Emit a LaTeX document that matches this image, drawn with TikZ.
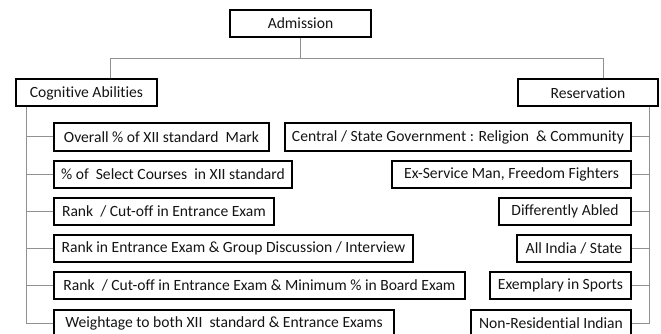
\documentclass[tikz,border=0pt]{standalone}
\usepackage{fontspec}
\setmainfont{Carlito}[Ligatures=NoCommon]
\usetikzlibrary{positioning}
\definecolor{linkgray}{RGB}{145,145,145}
\definecolor{textgray}{RGB}{20,20,20}
\tikzset{
    item/.style={rectangle,draw=black,line width=2pt,minimum height=27pt,inner sep=1pt,
                 text=textgray,font=\fontsize{15.6}{17}\selectfont},
    leftitem/.style={item,anchor=west},
    rightitem/.style={item,anchor=east},
    link/.style={draw=linkgray,line width=1pt},
}

\begin{document}
\begin{tikzpicture}[x=1pt,y=-1pt]
    \useasboundingbox (0,0) rectangle (661,334);
    % top levels
    \node[item,minimum width=141pt] (adm) at (300.5,23.5) {Admission};
    \node[item,minimum width=141pt] (cog) at (86.5,93) {Cognitive Abilities};
    \node[item,minimum width=140pt] (res) at (588,93) {Reservation};

    % cognitive abilities
    \node[leftitem,minimum width=215pt] (c1) at (53,137) {Overall \% of XII standard\ \ Mark};
    \node[leftitem,minimum width=238pt] (c2) at (53,174.2) {\% of\ \ Select Courses\ \ in XII standard};
    \node[leftitem,minimum width=220pt] (c3) at (53,211.4) {Rank\ \ / Cut-off in Entrance Exam};
    \node[leftitem,minimum width=359pt] (c4) at (53,248.6) {Rank in Entrance Exam \& Group Discussion / Interview};
    \node[leftitem,minimum width=411pt] (c5) at (53,285.8) {Rank\ \ / Cut-off in Entrance Exam \& Minimum \% in Board Exam};
    \node[leftitem,minimum width=340pt] (c6) at (53,323) {Weightage to both XII\ \ standard \& Entrance Exams};

    % reservation
    \node[rightitem,minimum width=346pt] (r1) at (632,137) {Central / State Government : Religion\ \ \& Community};
    \node[rightitem,minimum width=239pt] (r2) at (632,174.2) {Ex-Service Man, Freedom Fighters};
    \node[rightitem,minimum width=132pt] (r3) at (632,211.4) {Differently Abled};
    \node[rightitem,minimum width=114pt] (r4) at (632,248.6) {All India / State};
    \node[rightitem,minimum width=141pt] (r5) at (632,285.8) {Exemplary in Sports};
    \node[rightitem,minimum width=160pt] (r6) at (632,323) {Non-Residential Indian};

    % tree connectors
    \coordinate (jl) at (110,59);
    \coordinate (jr) at (603,59);
    \coordinate (sl) at (26,107);
    \coordinate (sr) at (649,107);
    \draw[link] (adm.south) -- (adm.south |- jl);
    \draw[link] (jl |- cog.north) -- (jl) -- (jr) -- (jr |- res.north);
    \draw[link] (sl |- cog.south) -- (sl |- c6.west) -- (c6.west);
    \draw[link] (sr |- res.south) -- (sr |- r6.east) -- (r6.east);

    \draw[link] (sl |- c1.west) -- (c1.west);
    \draw[link] (sl |- c2.west) -- (c2.west);
    \draw[link] (sl |- c3.west) -- (c3.west);
    \draw[link] (sl |- c4.west) -- (c4.west);
    \draw[link] (sl |- c5.west) -- (c5.west);

    \draw[link] (sr |- r1.east) -- (r1.east);
    \draw[link] (sr |- r2.east) -- (r2.east);
    \draw[link] (sr |- r3.east) -- (r3.east);
    \draw[link] (sr |- r4.east) -- (r4.east);
    \draw[link] (sr |- r5.east) -- (r5.east);
\end{tikzpicture}
\end{document}
